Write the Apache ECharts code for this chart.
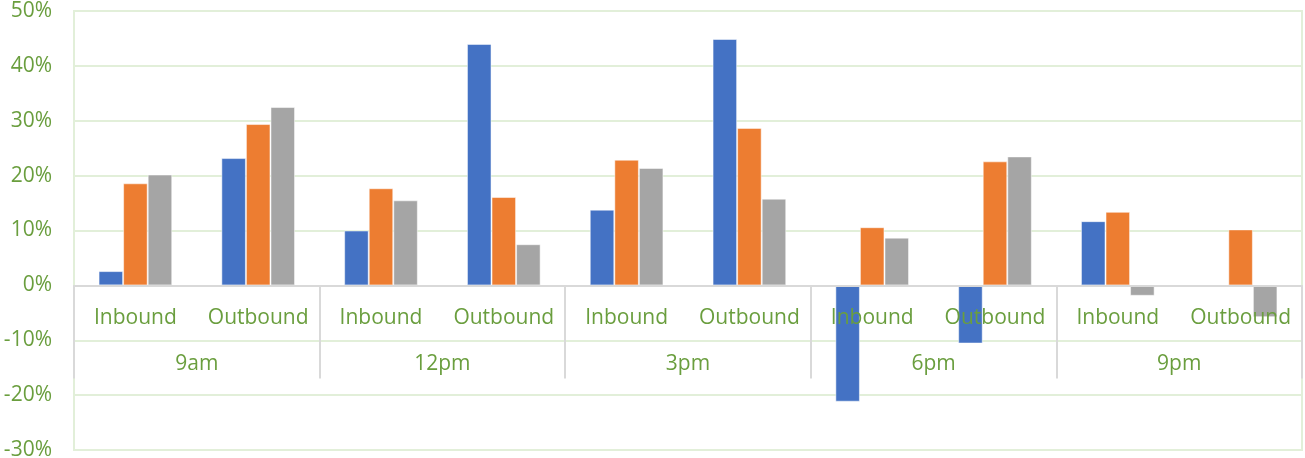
<!DOCTYPE html>
<html lang="en">
<head>
    <meta charset="UTF-8">
    <title>Inbound / Outbound</title>
    <script type="text/javascript" src="https://cdn.jsdelivr.net/npm/echarts@6/dist/echarts.min.js"></script>
    <style>
        html, body { margin: 0; padding: 0; background: #fff; }
    </style>
</head>
<body>
    <div id="charts" style="width:1305px;height:458px;"></div>
</body>
<script type="text/javascript">
    // data (percent)
    var directions = ['Inbound', 'Outbound', 'Inbound', 'Outbound', 'Inbound', 'Outbound', 'Inbound', 'Outbound', 'Inbound', 'Outbound'];
    var times = ['9am', '12pm', '3pm', '6pm', '9pm'];
    var blueVals = [2.6, 23.2, 10.0, 44.0, 13.8, 44.9, -21.2, -10.6, 11.7, -0.2];
    var orangeVals = [18.6, 29.4, 17.7, 16.1, 22.9, 28.7, 10.6, 22.6, 13.4, 10.2];
    var grayVals = [20.2, 32.5, 15.5, 7.5, 21.4, 15.8, 8.7, 23.5, -1.9, -5.8];

    var yMin = -30, yMax = 50;
    var green = '#6a9e3e';
    var gridGreen = '#e2efd9';
    var sepGray = '#d9d9d9';
    var font = '"Open Sans", sans-serif';

    var chartH = 458, gridTop = 11, gridBottom = 8;
    // the category axes sit on the 0% line, not at the bottom of the grid
    var zeroOffset = -(chartH - gridTop - gridBottom) * (0 - yMin) / (yMax - yMin);

    var myChart = echarts.init(document.getElementById('charts'));

    function bar(name, vals, color) {
        return {
            name: name,
            type: 'bar',
            data: vals,
            barGap: 0,
            barCategoryGap: '40%',
            itemStyle: { color: color, borderColor: 'rgba(255,255,255,0.5)', borderWidth: 1 }
        };
    }

    var option = {
        animation: false,
        backgroundColor: '#fff',
        grid: {
            left: 74, right: 3, top: gridTop, bottom: gridBottom,
            outerBoundsMode: 'none', containLabel: false,
            show: true, borderColor: gridGreen, borderWidth: 2, backgroundColor: '#fff'
        },
        xAxis: [{
            type: 'category',
            data: directions,
            position: 'bottom',
            offset: zeroOffset,
            z: 5,
            axisLine: { onZero: false, lineStyle: { color: sepGray, width: 2 } },
            axisTick: { show: false },
            axisLabel: { margin: 22, color: green, fontSize: 21, fontFamily: font, interval: 0 }
        }, {
            type: 'category',
            data: times,
            position: 'bottom',
            offset: zeroOffset,
            z: 5,
            axisLine: { show: false, onZero: false },
            axisTick: { show: true, length: 93, lineStyle: { color: sepGray, width: 2 } },
            axisLabel: { margin: 68, color: green, fontSize: 21, fontFamily: font, interval: 0 }
        }],
        yAxis: {
            type: 'value',
            min: yMin, max: yMax, interval: 10,
            axisLine: { show: false },
            axisTick: { show: false },
            axisLabel: { formatter: '{value}%', margin: 22, color: green, fontSize: 21, fontFamily: font },
            splitLine: { lineStyle: { color: gridGreen, width: 2 } }
        },
        series: [
            bar('Series1', blueVals, '#4472c4'),
            bar('Series2', orangeVals, '#ed7d31'),
            bar('Series3', grayVals, '#a5a5a5')
        ]
    };

    myChart.setOption(option);
</script>
</html>
